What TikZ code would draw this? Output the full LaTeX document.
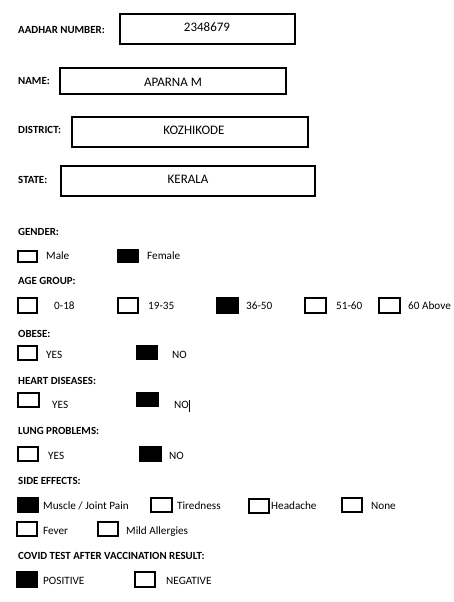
\documentclass[tikz,border=0pt]{standalone}
\usepackage{fontspec}
\setmainfont{Carlito}
\usepackage{tikz}
\tikzset{
  field/.style={draw=black, line width=1.6pt},
  tick/.style={draw=black, line width=1.3pt},
  ticked/.style={draw=black, fill=black, line width=1.3pt},
  txt/.style={inner sep=0pt, anchor=west, text height=7pt, text depth=0pt, font=\fontsize{11.2}{13}\selectfont},
  head/.style={txt, font=\fontsize{10.9}{13}\selectfont\bfseries},
  entry/.style={txt, anchor=center, text height=8pt, font=\fontsize{13}{15}\selectfont}
}

\begin{document}
\begin{tikzpicture}[x=1pt, y=-1pt]

                \useasboundingbox (0,0) rectangle (453,602);

                % Personal details
                \node[head] (aadhar) at (18,30) {AADHAR NUMBER:};
                \draw[field] (120,14) rectangle (295,44);
                \node[entry] (aadharval) at (207,28) {2348679};

                \node[head] (name) at (18,81) {NAME:};
                \draw[field] (60,68) rectangle (286,94);
                \node[entry] (nameval) at (173,82) {APARNA M};

                \node[head] (district) at (18,130) {DISTRICT:};
                \draw[field] (72,117) rectangle (308,147);
                \node[entry] (districtval) at (194,130) {KOZHIKODE};

                \node[head] (state) at (18,180) {STATE:};
                \draw[field] (61,166) rectangle (315,196);
                \node[entry] (stateval) at (188,179) {KERALA};

                % Gender
                \node[head] (gender) at (18,232) {GENDER:};
                \draw[tick] (18,251) rectangle (37,262);
                \node[txt] (male) at (46,256) {Male};
                \filldraw[ticked] (118,250) rectangle (138,262);
                \node[txt] (female) at (147,256) {Female};

                % Age group
                \node[head] (age) at (18,281) {AGE GROUP:};
                \draw[tick] (18,298) rectangle (37,313);
                \node[txt] (ageA) at (54,306) {0-18};
                \draw[tick] (118,298) rectangle (138,313);
                \node[txt] (ageB) at (148,306) {19-35};
                \filldraw[ticked] (217,298) rectangle (238,313);
                \node[txt] (ageC) at (246,306) {36-50};
                \draw[tick] (305,298) rectangle (326,313);
                \node[txt] (ageD) at (336,306) {51-60};
                \draw[tick] (379,298) rectangle (400,313);
                \node[txt] (ageE) at (408,306) {60 Above};

                % Obese
                \node[head] (obese) at (18,334) {OBESE:};
                \draw[tick] (18,346) rectangle (37,360);
                \node[txt] (obeseyes) at (46,355) {YES};
                \filldraw[ticked] (137,346) rectangle (157,359);
                \node[txt] (obeseno) at (172,355) {NO};

                % Heart diseases
                \node[head] (heart) at (18,381) {HEART DISEASES:};
                \draw[tick] (18,393) rectangle (39,407);
                \node[txt] (heartyes) at (52,405) {YES};
                \filldraw[ticked] (137,393) rectangle (158,406);
                \node[txt] (heartno) at (174,405) {NO};
                \draw[line width=1pt] (189,400) -- (189,412);

                % Lung problems
                \node[head] (lung) at (18,431) {LUNG PROBLEMS:};
                \draw[tick] (18,447) rectangle (38,461);
                \node[txt] (lungyes) at (48,456) {YES};
                \filldraw[ticked] (140,447) rectangle (161,461);
                \node[txt] (lungno) at (169,456) {NO};

                % Side effects
                \node[head] (side) at (18,481) {SIDE EFFECTS:};
                \filldraw[ticked] (18,498) rectangle (38,512);
                \node[txt] (muscle) at (43,506) {Muscle / Joint Pain};
                \draw[tick] (151,498) rectangle (172,512);
                \node[txt] (tired) at (177,506) {Tiredness};
                \draw[tick] (249,499) rectangle (269,513);
                \node[txt] (headache) at (271,506) {Headache};
                \draw[tick] (342,498) rectangle (362,512);
                \node[txt] (none) at (371,506) {None};
                \draw[tick] (17,522) rectangle (37,536);
                \node[txt] (fever) at (43,531) {Fever};
                \draw[tick] (98,522) rectangle (118,536);
                \node[txt] (allergy) at (126,531) {Mild Allergies};

                % Test result
                \node[head] (covid) at (18,556) {COVID TEST AFTER VACCINATION RESULT:};
                \filldraw[ticked] (17,572) rectangle (37,587);
                \node[txt] (positive) at (43,581) {POSITIVE};
                \draw[tick] (135,572) rectangle (155,587);
                \node[txt] (negative) at (166,581) {NEGATIVE};

            \end{tikzpicture}
\end{document}
